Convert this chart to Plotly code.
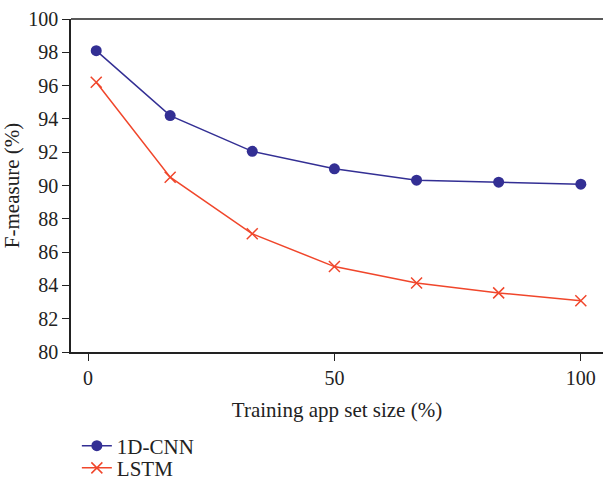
import plotly.graph_objects as go

train_size = [1.67, 16.67, 33.33, 50, 66.67, 83.33, 100]
cnn_f = [98.1, 94.2, 92.05, 91.0, 90.32, 90.2, 90.08]
lstm_f = [96.2, 90.5, 87.1, 85.13, 84.14, 83.55, 83.08]
y_ticks = list(range(80, 101, 2))
x_ticks = [0, 50, 100]

font_family = "Liberation Serif"
navy = "#332F94"
red = "#F0462B"
ink = "#222222"

fig = go.Figure()
fig.add_trace(go.Scatter(x=train_size, y=cnn_f, mode="lines+markers", name="1D-CNN",
                         line=dict(color=navy, width=1.5),
                         marker=dict(symbol="circle", size=11, color=navy),
                         legend="legend"))
fig.add_trace(go.Scatter(x=train_size, y=lstm_f, mode="lines+markers", name="LSTM",
                         line=dict(color=red, width=1.5),
                         marker=dict(symbol="x-thin", size=11, color=red,
                                     line=dict(color=red, width=1.5)),
                         legend="legend2"))

fig.update_layout(
    width=603, height=481,
    margin=dict(l=71, r=0, t=19, b=129, autoexpand=False),
    paper_bgcolor="white", plot_bgcolor="white",
    font=dict(family=font_family, size=20, color=ink),
    xaxis=dict(range=[-3.45, 104.5], tickvals=x_ticks, ticks="outside", ticklen=7,
               tickcolor=ink, showline=True, linecolor=ink, linewidth=1.5,
               showgrid=False, zeroline=False, automargin=False,
               tickfont=dict(size=20),
               title=dict(text="Training app set size (%)", font=dict(size=21), standoff=15)),
    yaxis=dict(range=[80, 100], tickvals=y_ticks, ticks="outside", ticklen=7,
               tickcolor=ink, showline=True, linecolor=ink, linewidth=1.5,
               showgrid=False, zeroline=False, automargin=False,
               tickfont=dict(size=20),
               title=dict(text="F-measure (%)", font=dict(size=21), standoff=10)),
    legend=dict(x=0.011, y=-0.2823, xanchor="left", yanchor="middle",
                font=dict(size=21), bgcolor="rgba(0,0,0,0)"),
    legend2=dict(x=0.011, y=-0.349, xanchor="left", yanchor="middle",
                 font=dict(size=21), bgcolor="rgba(0,0,0,0)"),
    showlegend=True,
)
fig.add_shape(type="line", xref="paper", yref="paper", x0=0, x1=1, y0=1, y1=1,
              line=dict(color=ink, width=1.5))

fig.write_html("out.html")
